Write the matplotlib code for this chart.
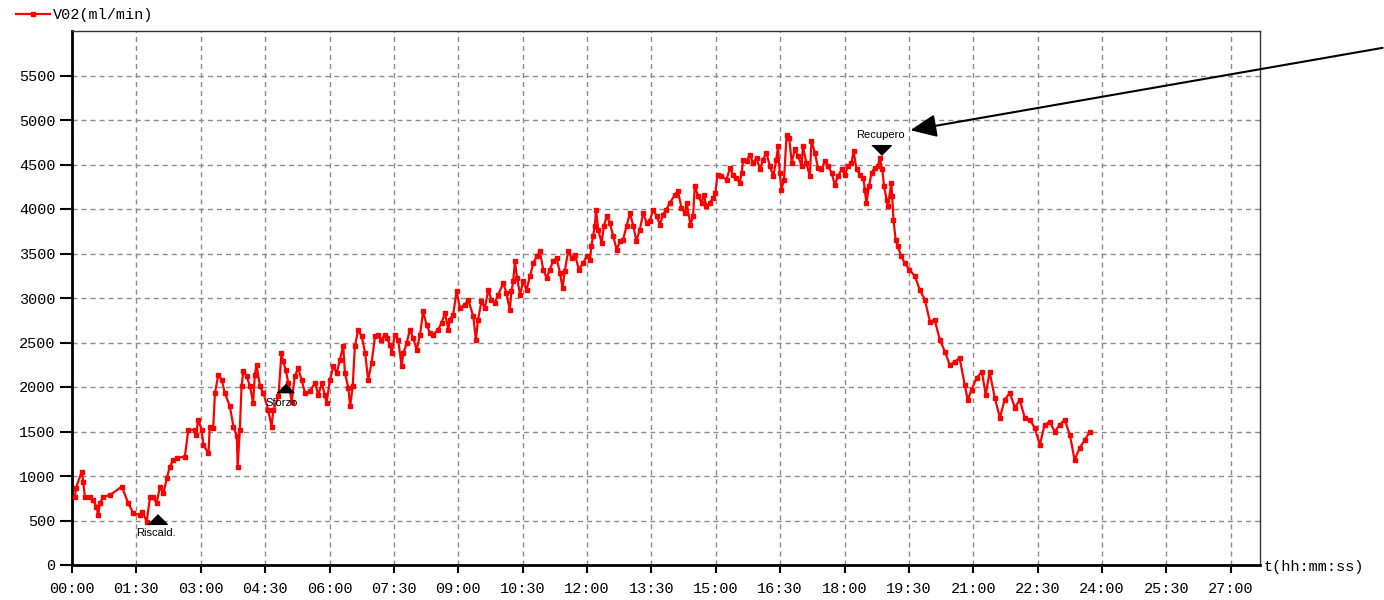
import matplotlib
matplotlib.use('Agg')
import matplotlib.pyplot as plt

# VO2 trace (time in minutes, VO2 in ml/min)
time_min = [
    0.07, 0.09, 0.23, 0.26, 0.30, 0.42, 0.49, 0.57, 0.61, 0.65, 0.73, 0.89, 1.16, 1.31, 1.43,
    1.58, 1.64, 1.74, 1.82, 1.88, 1.97, 2.05, 2.13, 2.21, 2.28, 2.36, 2.44, 2.63, 2.71, 2.86,
    2.89, 2.94, 3.02, 3.06, 3.18, 3.21, 3.29, 3.33, 3.41, 3.49, 3.56, 3.68, 3.76, 3.84, 3.86,
    3.91, 3.95, 3.99, 4.07, 4.15, 4.22, 4.26, 4.30, 4.38, 4.46, 4.57,
    4.65, 4.69, 4.81, 4.88, 4.92, 4.98, 5.04, 5.12, 5.19, 5.27, 5.35, 5.43, 5.54, 5.66, 5.74,
    5.82, 5.89, 5.93, 6.01, 6.09, 6.17, 6.24, 6.32, 6.36, 6.44, 6.48, 6.54, 6.59, 6.67, 6.75,
    6.83, 6.90, 6.98, 7.06, 7.13,
    7.21, 7.29, 7.33, 7.41, 7.45, 7.52, 7.60, 7.68, 7.72, 7.80, 7.87, 7.95, 8.03, 8.11, 8.18,
    8.26, 8.34, 8.42, 8.53, 8.61, 8.69, 8.77, 8.80, 8.88, 8.96, 9.04, 9.15, 9.23, 9.35, 9.41,
    9.46, 9.54, 9.62, 9.70, 9.77, 9.85, 9.93, 10.05, 10.12, 10.20, 10.24, 10.28, 10.32, 10.37,
    10.44, 10.51, 10.59, 10.67, 10.75, 10.83, 10.90, 10.98, 11.06, 11.13, 11.21, 11.29, 11.37,
    11.43, 11.48, 11.56, 11.64, 11.72, 11.81,
    11.91, 11.99, 12.07, 12.10, 12.14, 12.18, 12.21, 12.26, 12.34, 12.39, 12.46, 12.53, 12.61,
    12.69, 12.77, 12.84, 12.92, 13.00, 13.08, 13.15, 13.23, 13.31, 13.39, 13.46, 13.54, 13.62,
    13.70, 13.77, 13.85, 13.93, 14.05, 14.12, 14.20, 14.28, 14.32, 14.41, 14.47, 14.51, 14.59,
    14.67, 14.72, 14.78, 14.86, 14.94, 14.99, 15.04, 15.13, 15.25, 15.33, 15.40, 15.48, 15.56,
    15.60, 15.64, 15.72, 15.79, 15.87, 15.95, 16.03, 16.10, 16.18, 16.26, 16.34, 16.41, 16.45,
    16.49, 16.53, 16.59, 16.65, 16.71, 16.77, 16.84, 16.92, 17.00, 17.03, 17.11, 17.19, 17.23,
    17.31, 17.38, 17.46, 17.54, 17.62, 17.70, 17.77, 17.85, 17.93, 18.01, 18.08, 18.16, 18.21,
    18.28, 18.36, 18.44, 18.47, 18.51, 18.57, 18.63, 18.70, 18.78, 18.82, 18.88, 18.92, 18.98,
    19.01, 19.09, 19.11, 19.14, 19.19, 19.24, 19.32, 19.40, 19.51, 19.64,
    19.75, 19.87, 19.99, 20.10, 20.22, 20.34, 20.45, 20.57, 20.68, 20.80, 20.87, 20.96, 21.08,
    21.20, 21.29, 21.38, 21.50, 21.62, 21.73, 21.85, 21.97, 22.08, 22.20, 22.32, 22.43, 22.55,
    22.66, 22.78, 22.90, 23.01, 23.13, 23.25, 23.36, 23.48, 23.60, 23.71,
]
vo2 = [
    768, 866, 1050, 937, 768, 768, 731, 656, 562, 694, 768, 787, 881, 694, 581,
    562, 600, 487, 768, 768, 694, 881, 806, 975, 1106, 1181, 1200, 1219, 1519, 1519,
    1462, 1631, 1519, 1350, 1256, 1556, 1538, 1931, 2137, 2081, 1931, 1781, 1556, 1444, 1106,
    1519, 2006, 2175, 2119, 2006, 1819, 2137, 2250, 2006, 1931, 1744,
    1556, 1744, 1894, 2381, 2287, 2194, 2044, 1837, 2119, 2212, 2081, 1931, 1950, 2044, 1912,
    2044, 1912, 1819, 2081, 2231, 2156, 2306, 2456, 2156, 1987, 1781, 2006, 2456, 2644, 2569,
    2381, 2081, 2269, 2569, 2587,
    2531, 2587, 2550, 2475, 2381, 2587, 2531, 2231, 2381, 2494, 2644, 2550, 2419, 2587, 2850,
    2700, 2606, 2587, 2644, 2719, 2831, 2644, 2756, 2812, 3075, 2887, 2925, 2981, 2794, 2531,
    2756, 2962, 2887, 3094, 2981, 2944, 3037, 3169, 3056, 2869, 3075, 3187, 3412, 3225,
    3037, 3187, 3094, 3244, 3394, 3469, 3525, 3319, 3225, 3319, 3412, 3450, 3281,
    3112, 3300, 3525, 3450, 3487, 3319,
    3394, 3469, 3431, 3581, 3694, 3806, 3994, 3769, 3619, 3806, 3919, 3844, 3694,
    3544, 3637, 3656, 3806, 3956, 3806, 3637, 3769, 3956, 3844, 3862, 3994, 3919,
    3825, 3937, 3994, 4069, 4162, 4200, 4012, 3956, 4069, 3825, 3919, 4256, 4144,
    4069, 4162, 4031, 4069, 4125, 4181, 4387, 4369, 4331, 4462, 4387, 4350, 4294,
    4400, 4556, 4537, 4612, 4519, 4575, 4444, 4556, 4631, 4481, 4369, 4556, 4706,
    4406, 4219, 4331, 4837, 4800, 4519, 4669, 4594, 4481, 4706, 4519, 4369, 4762,
    4631, 4462, 4444, 4537, 4481, 4406, 4275, 4369, 4444, 4387, 4481, 4519, 4650,
    4444, 4387, 4350, 4219, 4069, 4256, 4406, 4462, 4481, 4575, 4444, 4256, 4106,
    4031, 4294, 4144, 3881, 3656, 3581, 3469, 3394, 3319, 3244,
    3094, 2981, 2734, 2756, 2531, 2396, 2250, 2284, 2329, 2025, 1856, 1969, 2104,
    2171, 1912, 2171, 1879, 1654, 1856, 1935, 1766, 1856, 1654, 1631, 1541, 1350,
    1575, 1609, 1496, 1575, 1631, 1462, 1181, 1316, 1406, 1496,
]

# phase markers
event_names = ['Riscald.', 'Sforzo', 'Recupero']
event_time = [1.97, 4.96, 18.86]
event_vo2 = [520, 1990, 4660]
event_label_vo2 = [360, 1822, 4837]

x_ticks = [i * 1.5 for i in range(19)]
x_labels = ['00:00', '01:30', '03:00', '04:30', '06:00', '07:30', '09:00', '10:30', '12:00',
            '13:30', '15:00', '16:30', '18:00', '19:30', '21:00', '22:30', '24:00', '25:30', '27:00']
y_ticks = list(range(0, 5501, 500))

MONO = 'Liberation Mono'
GRID_COLOR = '#8c8c8c'

fig = plt.figure(figsize=(13.84, 6.0), dpi=100)
ax = fig.add_axes([72 / 1384, 35 / 600, 1188 / 1384, 534 / 600])

ax.plot(time_min, vo2, color='#ff0000', lw=1.6, marker='s', markersize=3.2,
        label='V02(ml/min)', zorder=3)

# flat triangles for the phase markers
tri_up = [(-1, -0.5), (1, -0.5), (0, 0.5)]
tri_down = [(-1, 0.5), (1, 0.5), (0, -0.5)]
for i, name in enumerate(event_names):
    mk = tri_down if i == 2 else tri_up
    size = 12 if i == 1 else 14
    ax.plot(event_time[i], event_vo2[i], marker=mk, color='black', markersize=size,
            linestyle='none', zorder=4)
    ax.text(event_time[i] - (0.07 if i == 1 else 0.02), event_label_vo2[i], name,
            ha='center', va='center', fontsize=8, family='Liberation Sans', zorder=5)

# arrow pointing at the recovery marker
ax.annotate('', xy=(19.47, 4880), xytext=(30.6, 5816),
            arrowprops=dict(arrowstyle='-|>,head_length=0.8,head_width=0.35',
                            color='black', lw=1.5, mutation_scale=20),
            annotation_clip=False, zorder=6)

ax.set_xlim(0, 27.68)
ax.set_ylim(0, 6000)
ax.set_xticks(x_ticks)
ax.set_xticklabels(x_labels, family=MONO, fontsize=11)
ax.set_yticks(y_ticks)
ax.set_yticklabels([str(v) for v in y_ticks], family=MONO, fontsize=11)

ax.grid(True, color=GRID_COLOR, linestyle=(0, (3.6, 2.9)), lw=1)
ax.set_axisbelow(True)

ax.tick_params(axis='y', direction='out', length=9, width=1.5, pad=3, colors='black')
ax.tick_params(axis='x', direction='out', length=6, width=1.5, pad=6, colors='black')

ax.spines['left'].set_linewidth(2)
ax.spines['bottom'].set_linewidth(2)
ax.spines['top'].set_linewidth(1)
ax.spines['right'].set_linewidth(1)
ax.spines['top'].set_color('#333333')
ax.spines['right'].set_color('#333333')

ax.legend(loc='center left', bbox_to_anchor=(10 / 1384, 1 - 15 / 600), bbox_transform=fig.transFigure,
          frameon=False, handlelength=2.2, handletextpad=0.2, borderaxespad=0, numpoints=1,
          prop={'family': MONO, 'size': 11})

fig.text(1264 / 1384, 1 - 567 / 600, 't(hh:mm:ss)', family=MONO, fontsize=11,
         ha='left', va='center')

plt.savefig('out.png', dpi=100)
